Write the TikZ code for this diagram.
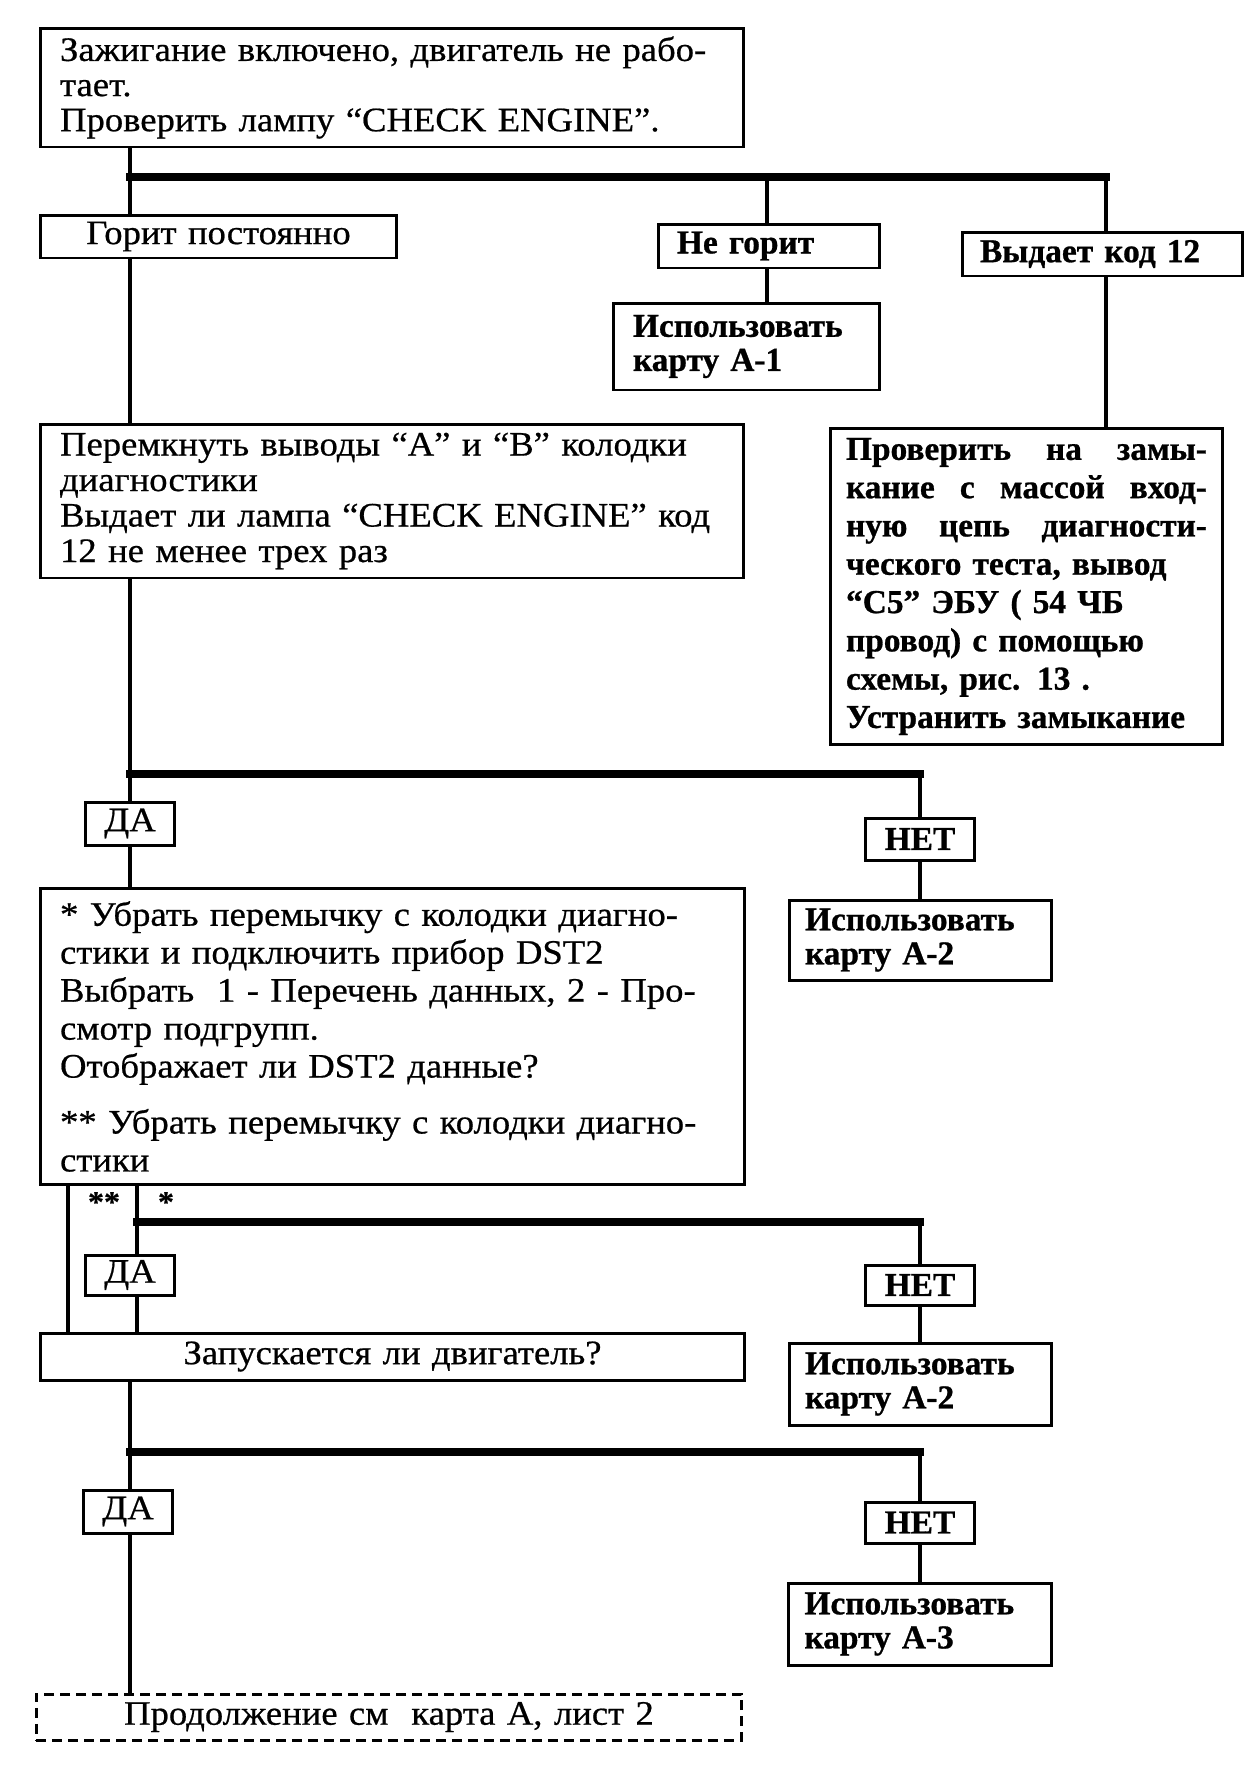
\documentclass[tikz,border=0pt]{standalone}
\usepackage{fontspec}
\newfontfamily\rfont{Liberation Serif}[FakeStretch=1.07, FakeBold=0.6]
\newfontfamily\bfont{Liberation Serif}[FakeBold=0.8]
\usetikzlibrary{positioning}
\begin{document}
\begin{tikzpicture}[x=0.02cm, y=-0.02cm,
  box/.style={draw, line width=1.7pt, fill=white, inner sep=0pt},
  dbox/.style={draw, line width=1.7pt, dash pattern=on 0.2cm off 0.12cm, fill=white, inner sep=0pt},
  rtxt/.style={font={\rfont\fontsize{19.5}{20}\selectfont}},
  btxt/.style={font={\bfont\bfseries\fontsize{19}{19.4}\selectfont}},
  conn/.style={line width=2.5pt},
  bar/.style={line width=4.3pt, line cap=rect},
  star/.style={font={\rfont\bfseries\fontsize{17}{17}\selectfont}, inner sep=0pt}
]
\useasboundingbox[fill=white] (0,0) rectangle (1250,1769);

% ---- boxes ----
\node[box, rtxt, minimum width=14.08cm, minimum height=2.38cm, text width=13.28cm, align=left] (T) at (392,87.5)
  {Зажигание включено, двигатель не рабо-\\тает.\\Проверить лампу “CHECK ENGINE”.};
\node[box, rtxt, minimum width=7.14cm, minimum height=0.86cm, text width=7cm, align=center] (G) at (218.5,236.5)
  {Горит постоянно};
\node[box, btxt, minimum width=4.44cm, minimum height=0.88cm, text width=3.68cm, align=left] (N) at (769,246)
  {Не горит};
\node[box, btxt, minimum width=5.62cm, minimum height=0.88cm, text width=4.9cm, align=left] (V) at (1102.5,254)
  {Выдает код 12};
\node[box, btxt, minimum width=5.34cm, minimum height=1.74cm, text width=4.54cm, align=left] (U1) at (746.5,346.5)
  {Использовать\\карту А-1};
\node[box, font={\bfont\bfseries\fontsize{19}{21.8}\selectfont}, minimum width=7.86cm, minimum height=6.34cm, text width=7.22cm, align=left] (P) at (1026.5,586.5)
  {\makebox[7.22cm][l]{Проверить\hfill на\hfill замы-}\\
   \makebox[7.22cm][l]{кание\hfill с\hfill массой\hfill вход-}\\
   \makebox[7.22cm][l]{ную\hfill цепь\hfill диагности-}\\
   ческого теста, вывод\\
   “С5” ЭБУ ( 54 ЧБ\\
   провод) с помощью\\
   схемы, рис. 13 .\\
   Устранить замыкание};
\node[box, font={\rfont\fontsize{19.5}{20.2}\selectfont}, minimum width=14.08cm, minimum height=3.08cm, text width=13.28cm, align=left] (M) at (392,501)
  {Перемкнуть выводы “А” и “В” колодки\\диагностики\\Выдает ли лампа “CHECK ENGINE” код\\12 не менее трех раз};
\node[box, rtxt, minimum width=1.8cm, minimum height=0.86cm, align=center] (D1) at (130,823.5) {ДА};
\node[box, btxt, minimum width=2.18cm, minimum height=0.84cm, align=center] (H1) at (920,839) {НЕТ};
\node[box, btxt, minimum width=5.26cm, minimum height=1.6cm, text width=4.62cm, align=left] (U2) at (920.5,940)
  {Использовать\\карту А-2};
\node[box, font={\rfont\fontsize{19.5}{21.6}\selectfont}, minimum width=14.1cm, minimum height=5.94cm, text width=13.3cm, align=left] (B) at (392.5,1036.5)
  {* Убрать перемычку с колодки диагно-\\стики и подключить прибор DST2\\Выбрать\ \ 1 - Перечень данных, 2 - Про-\\смотр подгрупп.\\Отображает ли DST2 данные?\\[0.36cm]** Убрать перемычку с колодки диагно-\\стики};
\node[box, rtxt, minimum width=1.8cm, minimum height=0.8cm, align=center] (D2) at (130,1275) {ДА};
\node[box, btxt, minimum width=2.18cm, minimum height=0.8cm, align=center] (H2) at (920,1285) {НЕТ};
\node[box, rtxt, minimum width=14.1cm, minimum height=0.94cm, text width=13.5cm, align=center] (Z) at (392.5,1356.5)
  {Запускается ли двигатель?};
\node[box, btxt, minimum width=5.26cm, minimum height=1.64cm, text width=4.62cm, align=left] (U3) at (920.5,1384)
  {Использовать\\карту А-2};
\node[box, rtxt, minimum width=1.8cm, minimum height=0.86cm, align=center] (D3) at (128,1511.5) {ДА};
\node[box, btxt, minimum width=2.18cm, minimum height=0.82cm, align=center] (H3) at (920,1522.5) {НЕТ};
\node[box, btxt, minimum width=5.28cm, minimum height=1.64cm, text width=4.62cm, align=left] (U4) at (920,1624)
  {Использовать\\карту А-3};
\node[dbox, rtxt, minimum width=14.12cm, minimum height=0.92cm, text width=13.5cm, align=center] (C) at (389,1717)
  {Продолжение см\ \ карта А, лист 2};

\node[star] (s2) at (104,1202) {**};
\node[star] (s1) at (166,1202) {*};

% ---- connectors ----
\coordinate (sx) at (130,0);
\coordinate (sa) at (68,0);
\coordinate (sb) at (137,0);
\coordinate (j1) at (130,177);
\coordinate (j1n) at (767,177);
\coordinate (j1v) at (1106,177);
\coordinate (j2) at (130,774);
\coordinate (j2h) at (920,774);
\coordinate (j3) at (137,1222);
\coordinate (j3h) at (920,1222);
\coordinate (j4) at (130,1452);
\coordinate (j4h) at (920,1452);

\draw[conn] (T.south -| sx) -- (G.north -| sx);
\draw[bar] (j1) -- (j1v);
\draw[conn] (j1n) -- (j1n |- N.north);
\draw[conn] (j1v) -- (j1v |- V.north);
\draw[conn] (N.south -| j1n) -- (U1.north -| j1n);
\draw[conn] (V.south -| j1v) -- (P.north -| j1v);
\draw[conn] (G.south -| sx) -- (M.north -| sx);

\draw[conn] (M.south -| sx) -- (D1.north -| sx);
\draw[bar] (j2) -- (j2h);
\draw[conn] (j2h) -- (H1.north);
\draw[conn] (H1.south) -- (U2.north -| H1.south);
\draw[conn] (D1.south -| sx) -- (B.north -| sx);

\draw[conn] (B.south -| sa) -- (Z.north -| sa);
\draw[conn] (B.south -| sb) -- (D2.north -| sb);
\draw[conn] (D2.south -| sb) -- (Z.north -| sb);
\draw[bar] (j3) -- (j3h);
\draw[conn] (j3h) -- (H2.north);
\draw[conn] (H2.south) -- (U3.north -| H2.south);

\draw[conn] (Z.south -| sx) -- (D3.north -| sx);
\draw[bar] (j4) -- (j4h);
\draw[conn] (j4h) -- (H3.north);
\draw[conn] (H3.south) -- (U4.north -| H3.south);
\draw[conn] (D3.south -| sx) -- (C.north -| sx);
\end{tikzpicture}
\end{document}
